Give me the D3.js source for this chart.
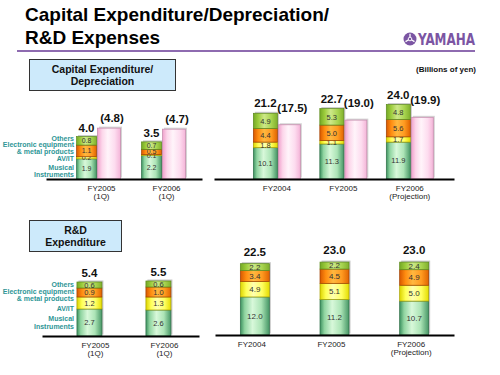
<!DOCTYPE html>
<html>
<head>
<meta charset="utf-8">
<script src="https://cdn.jsdelivr.net/npm/d3@7"></script>
<style>
  body { margin: 0; background: #fff; }
  svg { display: block; font-family: "Liberation Sans", Arial, sans-serif; }
</style>
</head>
<body>
<div id="chart"></div>
<script>
'use strict';

// segment names, bottom to top
const segKeys = ["musical", "avit", "elec", "others"];

// Capital expenditure / depreciation, quarter
const capQtrCats = [["FY2005", "(1Q)"], ["FY2006", "(1Q)"]];
const capQtrMusical = [1.9, 2.2];
const capQtrAvit = [0.2, 0.1];
const capQtrElec = [1.1, 0.5];
const capQtrOthers = [0.8, 0.7];
const deprQtr = [4.8, 4.7];

// Capital expenditure / depreciation, full year
const capYearCats = [["FY2004"], ["FY2005"], ["FY2006", "(Projection)"]];
const capYearMusical = [10.1, 11.3, 11.9];
const capYearAvit = [1.8, 1.1, 1.7];
const capYearElec = [4.4, 5.0, 5.6];
const capYearOthers = [4.9, 5.3, 4.8];
const deprYear = [17.5, 19.0, 19.9];

// R&D, quarter
const rdQtrCats = [["FY2005", "(1Q)"], ["FY2006", "(1Q)"]];
const rdQtrMusical = [2.7, 2.6];
const rdQtrAvit = [1.2, 1.3];
const rdQtrElec = [0.9, 1.0];
const rdQtrOthers = [0.6, 0.6];

// R&D, full year
const rdYearCats = [["FY2004"], ["FY2005"], ["FY2006", "(Projection)"]];
const rdYearMusical = [12.0, 11.2, 10.7];
const rdYearAvit = [4.9, 5.1, 5.0];
const rdYearElec = [3.4, 4.5, 4.9];
const rdYearOthers = [2.2, 2.2, 2.4];

const fmt = d3.format(".1f");

const svg = d3.select("#chart").append("svg")
  .attr("width", 500)
  .attr("height", 375);

// gradients for the cylinder-like bars
const defs = svg.append("defs");
const grads = {
  musical: [[0, "#3d9160"], [0.15, "#8fd4a0"], [0.42, "#d8f8da"], [0.72, "#ace4b6"], [1, "#479766"]],
  avit:    [[0, "#dcd400"], [0.2, "#ffff55"], [0.45, "#ffffb0"], [0.75, "#ffff60"], [1, "#e4dc00"]],
  elec:    [[0, "#d85800"], [0.2, "#ff8c10"], [0.45, "#ffb840"], [0.75, "#ff9a20"], [1, "#e06400"]],
  others:  [[0, "#74a826"], [0.2, "#9ccc3c"], [0.45, "#cde888"], [0.75, "#a8d450"], [1, "#80b02c"]],
  pink:    [[0, "#f0a0cc"], [0.2, "#fcd6ea"], [0.45, "#fff4fa"], [0.75, "#fddcef"], [1, "#f4b4d8"]]
};
const strokes = { musical: "#2f7048", avit: "#a8a000", elec: "#a04000", others: "#5c8a1c", pink: "#c890b0" };

Object.keys(grads).forEach(function(k) {
  const g = defs.append("linearGradient")
    .attr("id", "g-" + k)
    .attr("x1", "0").attr("x2", "1").attr("y1", "0").attr("y2", "0");
  grads[k].forEach(function(s) {
    g.append("stop").attr("offset", s[0]).attr("stop-color", s[1]);
  });
});

// ---- header ----
svg.append("text")
  .attr("x", 25).attr("y", 21)
  .style("font-size", "19px").style("font-weight", "bold").style("fill", "#000")
  .text("Capital Expenditure/Depreciation/");
svg.append("text")
  .attr("x", 25).attr("y", 44)
  .style("font-size", "19px").style("font-weight", "bold").style("fill", "#000")
  .text("R&D Expenses");

svg.append("line")
  .attr("x1", 17).attr("x2", 475).attr("y1", 51).attr("y2", 51)
  .style("stroke", "#8e6bb0").style("stroke-width", 2);

// yamaha mark
const logo = svg.append("g").attr("transform", "translate(410,39)");
logo.append("circle").attr("r", 6.5).style("fill", "#7b55a3");
[0, 120, 240].forEach(function(a) {
  logo.append("line")
    .attr("x1", 0).attr("y1", -1.5).attr("x2", 0).attr("y2", -5.2)
    .attr("transform", "rotate(" + a + ")")
    .style("stroke", "#fff").style("stroke-width", 1.3);
});
logo.append("circle").attr("r", 1.8).style("fill", "none").style("stroke", "#fff").style("stroke-width", 0.9);
svg.append("text")
  .attr("x", 418).attr("y", 45)
  .attr("textLength", 57).attr("lengthAdjust", "spacingAndGlyphs")
  .style("font-size", "16px").style("font-weight", "bold").style("fill", "#7b55a3")
  .style("font-family", "'Liberation Sans Narrow', 'DejaVu Sans Condensed', sans-serif")
  .text("YAMAHA");

svg.append("text")
  .attr("x", 476).attr("y", 72)
  .attr("text-anchor", "end")
  .style("font-size", "8px").style("font-weight", "bold").style("fill", "#111")
  .text("(Billions of yen)");

// section boxes
function titleBox(x, y, w, h, lines) {
  svg.append("rect")
    .attr("x", x).attr("y", y).attr("width", w).attr("height", h)
    .style("fill", "#cdeafb").style("stroke", "#333").style("stroke-width", 1);
  lines.forEach(function(t, i) {
    svg.append("text")
      .attr("x", x + w / 2)
      .attr("y", y + h / 2 + (i - (lines.length - 1) / 2) * 12 + 4)
      .attr("text-anchor", "middle")
      .style("font-size", "10.5px").style("font-weight", "bold").style("fill", "#111")
      .text(t);
  });
}
titleBox(29.5, 59.5, 146, 31, ["Capital Expenditure/", "Depreciation"]);
titleBox(29.5, 220.5, 92, 31, ["R&D", "Expenditure"]);

// ---- generic panel ----
function drawPanel(p) {
  const rows = p.cats.map(function(c, i) {
    return { cat: c[0], label: c, musical: p.musical[i], avit: p.avit[i], elec: p.elec[i], others: p.others[i],
             depr: p.depr ? p.depr[i] : null };
  });

  const x = d3.scaleBand()
    .domain(rows.map(function(d) { return d.cat; }))
    .range(p.xRange)
    .paddingInner(0)
    .paddingOuter(p.padOuter)
    .align(p.align);

  const y = d3.scaleLinear()
    .domain([0, p.yMax])
    .range([p.baseline, p.baseline - p.yMax * p.pxPerUnit]);

  const stack = d3.stack().keys(segKeys)(rows);

  const groupW = p.stackW + (p.depr ? p.gap + p.pinkW : 0);
  const stackX = function(d) { return x(d.cat) + x.bandwidth() / 2 - groupW / 2; };
  const pinkX = function(d) { return stackX(d) + p.stackW + p.gap; };

  const g = svg.append("g");

  // shadows
  g.selectAll(".shadow").data(rows).enter().append("rect")
    .attr("x", function(d) { return stackX(d) + 1.5; })
    .attr("y", function(d) { return y(d.musical + d.avit + d.elec + d.others) - 1.5; })
    .attr("width", p.stackW)
    .attr("height", function(d) { return p.baseline - y(d.musical + d.avit + d.elec + d.others); })
    .style("fill", "#c8c8c8");

  if (p.depr) {
    g.selectAll(".pshadow").data(rows).enter().append("rect")
      .attr("x", function(d) { return pinkX(d) + 1.5; })
      .attr("y", function(d) { return y(d.depr) - 1.5; })
      .attr("width", p.pinkW)
      .attr("height", function(d) { return p.baseline - y(d.depr); })
      .style("fill", "#d4d4d4");

    g.selectAll(".pink").data(rows).enter().append("rect")
      .attr("x", pinkX)
      .attr("y", function(d) { return y(d.depr); })
      .attr("width", p.pinkW)
      .attr("height", function(d) { return p.baseline - y(d.depr); })
      .style("fill", "url(#g-pink)")
      .style("stroke", strokes.pink).style("stroke-width", 0.8);

    g.selectAll(".plabel").data(rows).enter().append("text")
      .attr("x", function(d) { return pinkX(d) + p.pinkW / 2 + 3; })
      .attr("y", function(d) { return y(d.depr) - p.pinkGap; })
      .attr("text-anchor", "middle")
      .style("font-size", "11.5px").style("font-weight", "bold").style("fill", "#111")
      .text(function(d) { return "(" + fmt(d.depr) + ")"; });
  }

  stack.forEach(function(layer) {
    const key = layer.key;
    g.selectAll(".seg-" + key).data(layer).enter().append("rect")
      .attr("x", function(d) { return stackX(d.data); })
      .attr("y", function(d) { return y(d[1]); })
      .attr("width", p.stackW)
      .attr("height", function(d) { return y(d[0]) - y(d[1]); })
      .style("fill", "url(#g-" + key + ")")
      .style("stroke", strokes[key]).style("stroke-width", 0.7);

    g.selectAll(".val-" + key).data(layer).enter().append("text")
      .attr("x", function(d) { return stackX(d.data) + p.stackW / 2; })
      .attr("y", function(d) { return (y(d[0]) + y(d[1])) / 2 + p.valSize * 0.36; })
      .attr("text-anchor", "middle")
      .style("font-size", p.valSize + "px").style("fill", "#333")
      .text(function(d) { return fmt(d.data[key]); });
  });

  // totals
  g.selectAll(".total").data(rows).enter().append("text")
    .attr("x", function(d) { return stackX(d) + p.stackW / 2; })
    .attr("y", function(d) { return y(d.musical + d.avit + d.elec + d.others) - p.totalGap; })
    .attr("text-anchor", "middle")
    .style("font-size", "11.5px").style("font-weight", "bold").style("fill", "#111")
    .text(function(d) { return fmt(d.musical + d.avit + d.elec + d.others); });

  // axis with two-line category labels
  const ax = g.append("g")
    .attr("transform", "translate(0," + p.baseline + ")")
    .call(d3.axisBottom(x).tickSize(0).tickSizeOuter(0).tickFormat(""));
  ax.select(".domain").style("stroke", "#000").style("stroke-width", 2);
  ax.selectAll(".tick").each(function(cat) {
    const row = rows.find(function(r) { return r.cat === cat; });
    const t = d3.select(this).append("text")
      .attr("y", 11.5)
      .attr("text-anchor", "middle")
      .style("font-size", "8px").style("fill", "#222")
      .style("font-family", "'Liberation Sans', Arial, sans-serif");
    row.label.forEach(function(s, i) {
      t.append("tspan").attr("x", p.labelDx).attr("dy", i === 0 ? 0 : 8.5).text(s);
    });
  });

  // segment legend
  if (p.legend) {
    p.legend.forEach(function(l) {
      svg.append("text")
        .attr("x", 74)
        .attr("y", l[1] + 2.5)
        .attr("text-anchor", "end")
        .style("font-size", "7px").style("font-weight", "bold").style("fill", "#2e9696")
        .text(l[0]);
    });
  }
}

drawPanel({
  cats: capQtrCats, musical: capQtrMusical, avit: capQtrAvit, elec: capQtrElec, others: capQtrOthers, depr: deprQtr,
  xRange: [46, 202], padOuter: 0.2, align: 0.77, baseline: 179, yMax: 5, pxPerUnit: 10.6,
  stackW: 20, pinkW: 23, gap: 1, totalGap: 5, pinkGap: 6, valSize: 7, labelDx: 3,
  legend: [["Others", 138], ["Electronic equipment", 144.5], ["& metal products", 151], ["AV/IT", 158],
           ["Musical", 167], ["Instruments", 174]]
});

drawPanel({
  cats: capYearCats, musical: capYearMusical, avit: capYearAvit, elec: capYearElec, others: capYearOthers, depr: deprYear,
  xRange: [214, 454], padOuter: 0.305, align: 0.73, baseline: 179, yMax: 25, pxPerUnit: 3.1,
  stackW: 24, pinkW: 22, gap: 1, totalGap: 6, pinkGap: 13, valSize: 7.5, labelDx: 0
});

drawPanel({
  cats: rdQtrCats, musical: rdQtrMusical, avit: rdQtrAvit, elec: rdQtrElec, others: rdQtrOthers, depr: null,
  xRange: [42, 199], padOuter: 0.138, align: 0.68, baseline: 336, yMax: 6, pxPerUnit: 10,
  stackW: 25, pinkW: 0, gap: 0, totalGap: 5, pinkGap: 0, valSize: 7.5, labelDx: 6,
  legend: [["Others", 284], ["Electronic equipment", 291.5], ["& metal products", 298.5], ["AV/IT", 308],
           ["Musical", 318.5], ["Instruments", 326]]
});

drawPanel({
  cats: rdYearCats, musical: rdYearMusical, avit: rdYearAvit, elec: rdYearElec, others: rdYearOthers, depr: null,
  xRange: [215, 454], padOuter: 0, align: 0.5, baseline: 335, yMax: 25, pxPerUnit: 3.17,
  stackW: 29, pinkW: 0, gap: 0, totalGap: 8, pinkGap: 0, valSize: 8, labelDx: -3
});
</script>
</body>
</html>
